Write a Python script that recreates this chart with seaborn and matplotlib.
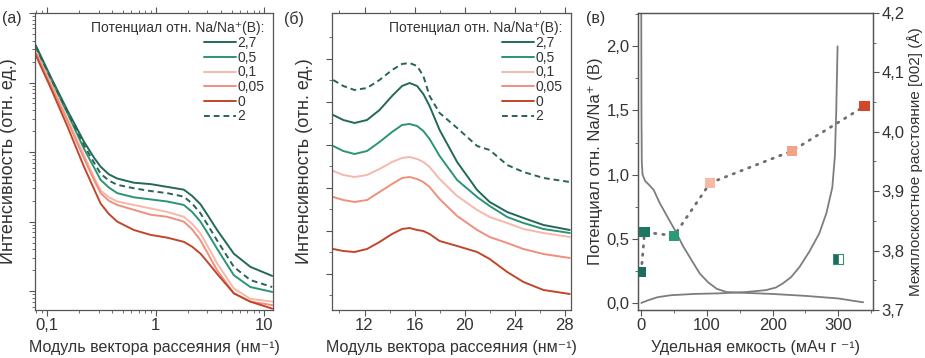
import matplotlib
matplotlib.use('Agg')
import matplotlib.pyplot as plt
import numpy as np
import seaborn as sns
from matplotlib.lines import Line2D
from matplotlib.ticker import FixedLocator, MultipleLocator, FuncFormatter, NullFormatter, LogLocator

# ---- data -------------------------------------------------------------
labels = ['2,7', '0,5', '0,1', '0,05', '0', '2']
colors = ['#22695a', '#2b9474', '#f6b8aa', '#ef8f7c', '#c2462c', '#2a6457']

# (a) SAXS, log10 of intensity (rel. units) vs q
q_a = [0.079, 0.109, 0.155, 0.220, 0.272, 0.313, 0.373, 0.445, 0.632, 0.900, 1.28, 1.82, 2.17, 2.59,
       3.08, 3.68, 5.24, 7.44, 11.8]
lg_a_27 = [3.54, 3.08, 2.60, 2.15, 1.92, 1.79, 1.68, 1.62, 1.56, 1.54, 1.50, 1.46, 1.37, 1.25, 1.07, 0.88,
           0.54, 0.35, 0.22]
lg_a_05 = [3.48, 3.04, 2.56, 2.05, 1.78, 1.60, 1.49, 1.41, 1.35, 1.32, 1.29, 1.24, 1.14, 1.00, 0.81, 0.61,
           0.23, 0.06, -0.01]
lg_a_01 = [3.46, 3.00, 2.48, 1.96, 1.64, 1.45, 1.35, 1.29, 1.24, 1.19, 1.14, 1.07, 0.97, 0.83, 0.62, 0.40,
           0.04, -0.11, -0.15]
lg_a_005 = [3.43, 2.96, 2.45, 1.91, 1.60, 1.41, 1.30, 1.24, 1.17, 1.10, 1.07, 1.00, 0.89, 0.73, 0.52, 0.30,
            -0.03, -0.15, -0.20]
lg_a_0 = [3.40, 2.92, 2.37, 1.79, 1.47, 1.26, 1.11, 1.00, 0.88, 0.81, 0.77, 0.71, 0.64, 0.54, 0.40, 0.25,
          -0.03, -0.15, -0.25]
lg_a_2 = [3.52, 3.06, 2.58, 2.10, 1.85, 1.69, 1.59, 1.53, 1.48, 1.44, 1.41, 1.36, 1.26, 1.12, 0.93, 0.73,
          0.35, 0.16, 0.06]

# (б) WAXS, intensity (rel. units, offset) vs q
q_b = [9.5, 10.3, 11.2, 12.2, 13.2, 14.2, 15.0, 15.6, 16.2, 16.7, 17.2, 18.0, 19.4, 21.0, 22.0, 23.4, 24.7, 26.3, 28.4]
i_b_27 = [195, 190, 187, 190, 200, 214, 224, 227, 224, 216, 204, 180, 148, 120, 108, 98, 92, 85, 80]
i_b_05 = [164, 159, 156, 159, 168, 178, 185, 186, 184, 179, 171, 154, 130, 113, 104, 93, 87, 81, 77]
i_b_01 = [139, 135, 133, 135, 141, 148, 152, 153, 151, 148, 143, 131, 114, 100, 93, 87, 81, 77, 73]
i_b_005 = [113, 110, 108, 110, 118, 126, 132, 133, 131, 128, 123, 111, 94, 80, 73, 67, 61, 56, 52]
i_b_0 = [61, 59, 58, 61, 68, 76, 81, 82, 80, 79, 76, 69, 64, 58, 51, 38, 28, 20, 16]
i_b_2 = [230, 224, 220, 222, 230, 240, 246, 247, 244, 234, 214, 197, 182, 164, 160, 145, 138, 132, 128]

# (в) galvanostatic curves
cap_dis = [0, 0.3, 0.8, 2, 6, 12, 19, 28, 40, 51, 64, 77, 89, 102, 115, 130, 150, 200, 250, 300, 325, 338]
pot_dis = [2.3, 1.5, 1.1, 1.0, 0.95, 0.92, 0.88, 0.78, 0.67, 0.57, 0.44, 0.33, 0.23, 0.16, 0.11, 0.085,
           0.08, 0.07, 0.055, 0.035, 0.015, 0.005]
cap_ch = [0, 10, 25, 45, 80, 120, 160, 190, 205, 215, 228, 241, 256, 271, 282, 291, 295, 297, 299]
pot_ch = [0.0, 0.02, 0.045, 0.06, 0.07, 0.075, 0.085, 0.1, 0.12, 0.15, 0.2, 0.28, 0.4, 0.54, 0.7, 0.9,
          1.15, 1.5, 2.0]

# (в) interlayer spacing d002
cap_d = [0, 5, 50, 105, 230, 340]
d002 = [3.764, 3.831, 3.825, 3.914, 3.968, 4.043]
d_colors = ['#1e6b5c', '#1d7862', '#2a9a78', '#f7b8a4', '#f2a383', '#d2472a']
cap_d_extra = [300]
d002_extra = [3.786]

# ---- style ------------------------------------------------------------
sns.set_style('ticks')
plt.rcParams['font.family'] = ['Liberation Sans', 'DejaVu Sans']
plt.rcParams['axes.edgecolor'] = '#555555'
plt.rcParams['xtick.color'] = '#555555'
plt.rcParams['ytick.color'] = '#555555'
plt.rcParams['xtick.labelcolor'] = '#333333'
plt.rcParams['ytick.labelcolor'] = '#333333'
plt.rcParams['text.color'] = '#333333'
plt.rcParams['axes.labelcolor'] = '#333333'

fig = plt.figure(figsize=(9.25, 3.58), dpi=100)
ax1 = fig.add_axes([0.0378, 0.1341, 0.2573, 0.8296])
ax2 = fig.add_axes([0.3589, 0.1341, 0.2584, 0.8296])
ax3 = fig.add_axes([0.6897, 0.1341, 0.2541, 0.8296])

comma = FuncFormatter(lambda v, p: f'{v:.1f}'.replace('.', ','))
lw = 1.4
dash = (3.0, 2.0)


def add_legend(ax):
    handles = []
    for lab, c in zip(labels, colors):
        h = Line2D([], [], color=c, lw=lw)
        if lab == '2':
            h.set_dashes(dash)
        handles.append(h)
    ax.legend(handles, labels, title='Потенциал отн. Na/Na⁺(В):', loc='upper right',
              bbox_to_anchor=(1.0, 1.0), frameon=False, fontsize=10, title_fontsize=10,
              alignment='right', handlelength=2.3, handletextpad=0.1, labelspacing=0.05,
              borderaxespad=0.3, borderpad=0.3)


# ---- (а) --------------------------------------------------------------
series_a = [lg_a_27, lg_a_05, lg_a_01, lg_a_005, lg_a_0, lg_a_2]
for lab, c, lg in zip(labels, colors, series_a):
    kw = dict(dashes=dash) if lab == '2' else {}
    sns.lineplot(x=q_a, y=10 ** np.array(lg), ax=ax1, color=c, lw=lw, **kw)
ax1.set_xscale('log')
ax1.set_yscale('log')
ax1.set_xlim(0.078, 12)
ax1.set_ylim(10 ** -0.27, 10 ** 4.0)
ax1.xaxis.set_major_locator(FixedLocator([0.1, 1, 10]))
ax1.set_xticklabels(['0,1', '1', '10'])
ax1.yaxis.set_major_locator(LogLocator(base=10))
ax1.yaxis.set_major_formatter(NullFormatter())
ax1.yaxis.set_minor_formatter(NullFormatter())
ax1.set_xlabel('Модуль вектора рассеяния (нм⁻¹)', fontsize=11.5)
ax1.set_ylabel('Интенсивность (отн. ед.)', fontsize=13)
ax1.yaxis.set_label_coords(-0.075, 0.5)
ax1.xaxis.set_label_coords(0.5, -0.1)
add_legend(ax1)

# ---- (б) --------------------------------------------------------------
series_b = [i_b_27, i_b_05, i_b_01, i_b_005, i_b_0, i_b_2]
for lab, c, iv in zip(labels, colors, series_b):
    kw = dict(dashes=dash) if lab == '2' else {}
    sns.lineplot(x=q_b, y=iv, ax=ax2, color=c, lw=lw, **kw)
ax2.set_xlim(9.4, 28.5)
ax2.set_ylim(0, 297)
ax2.set_xticks([12, 16, 20, 24, 28])
ax2.xaxis.set_minor_locator(MultipleLocator(2))
ax2.set_yticks([36, 79, 122, 165, 208, 251])
ax2.yaxis.set_minor_locator(FixedLocator([14.5, 57.5, 100.5, 143.5, 186.5, 229.5, 272.5]))
ax2.set_yticklabels([])
ax2.set_xlabel('Модуль вектора рассеяния (нм⁻¹)', fontsize=11.5)
ax2.set_ylabel('Интенсивность (отн. ед.)', fontsize=13)
ax2.yaxis.set_label_coords(-0.08, 0.5)
ax2.xaxis.set_label_coords(0.5, -0.1)
add_legend(ax2)

# ---- (в) --------------------------------------------------------------
sns.lineplot(x=cap_dis, y=pot_dis, ax=ax3, color='#7d7d7d', lw=1.3, sort=False, estimator=None)
sns.lineplot(x=cap_ch, y=pot_ch, ax=ax3, color='#7d7d7d', lw=1.3, sort=False, estimator=None)
ax3.set_xlim(-5, 353)
ax3.set_ylim(-0.055, 2.26)
ax3.set_xticks([0, 100, 200, 300])
ax3.xaxis.set_minor_locator(MultipleLocator(50))
ax3.set_yticks([0, 0.5, 1.0, 1.5, 2.0])
ax3.yaxis.set_minor_locator(MultipleLocator(0.25))
ax3.yaxis.set_major_formatter(comma)
ax3.set_xlabel('Удельная емкость (мАч г ⁻¹)', fontsize=11.5)
ax3.set_ylabel('Потенциал отн. Na/Na⁺ (В)', fontsize=12)
ax3.yaxis.set_label_coords(-0.15, 0.5)
ax3.xaxis.set_label_coords(0.5, -0.1)

ax3b = ax3.twinx()
sns.lineplot(x=cap_d, y=d002, ax=ax3b, color='#6e6e6e', lw=2.0, sort=False, estimator=None,
             dashes=(0.5, 2.5), dash_capstyle='round')
sns.scatterplot(x=cap_d, y=d002, hue=[str(v) for v in cap_d], palette=d_colors, ax=ax3b,
                marker='s', s=55, linewidth=0, legend=False, zorder=5)
ax3b.plot(cap_d_extra, d002_extra, marker='s', ms=7, ls='none', color='#1e6b5c',
          fillstyle='left', markerfacecoloralt='white', markeredgecolor='#3a8a78',
          markeredgewidth=0.8)
ax3b.set_ylim(3.7, 4.2)
ax3b.set_yticks([3.7, 3.8, 3.9, 4.0, 4.1, 4.2])
ax3b.yaxis.set_minor_locator(MultipleLocator(0.05))
ax3b.yaxis.set_major_formatter(comma)
ax3b.set_ylabel('Межплоскостное расстояние [002] (Å)', fontsize=11)
ax3b.yaxis.set_label_coords(1.145, 0.5)

for ax in (ax1, ax2, ax3, ax3b):
    ax.tick_params(which='major', length=4, width=0.8, labelsize=12, pad=2)
    ax.tick_params(which='minor', length=2, width=0.6)
    for s in ax.spines.values():
        s.set_visible(True)
        s.set_linewidth(0.9)
for ax in (ax1, ax2):
    ax.tick_params(which='both', top=True, direction='out')

fig.text(2 / 925, 1 - 19 / 358, '(а)', fontsize=11.5, va='center', ha='left')
fig.text(284 / 925, 1 - 19 / 358, '(б)', fontsize=11.5, va='center', ha='left')
fig.text(586 / 925, 1 - 19 / 358, '(в)', fontsize=11.5, va='center', ha='left')

fig.savefig('out.png', dpi=100)
